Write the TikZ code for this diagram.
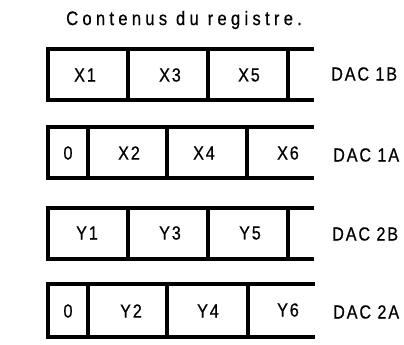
\documentclass[tikz,border=0pt]{standalone}
\usepackage{fontspec}
\setmainfont{Liberation Sans}[FakeStretch=0.85,LetterSpace=10,FakeBold=0.6]
\begin{document}
\begin{tikzpicture}[x=1pt,y=-1pt,
  frame/.style={line width=3.6pt,line cap=rect},
  cell/.style={font=\fontsize{19}{21}\selectfont,inner sep=0pt},
  dac/.style={font=\fontsize{19}{21}\selectfont,inner sep=0pt,anchor=west},
  titletext/.style={font=\fontsize{19.5}{21}\selectfont\addfontfeatures{LetterSpace=22},inner sep=0pt,anchor=west}]
\useasboundingbox (0,0) rectangle (404,345);
\node[titletext] (title) at (66,20) {Contenus du registre.};
% row 1 : DAC 1B
\draw[frame] (312,49) -- (48,49) -- (48,100) -- (312,100);
\foreach \x in {128,208,288} \draw[frame,line cap=butt] (\x,49) -- (\x,100);
\node[cell] (x1) at (85,75) {X1};
\node[cell] (x3) at (170,75) {X3};
\node[cell] (x5) at (249,75) {X5};
\node[dac] (d1b) at (331,74) {DAC 1B};
% row 2 : DAC 1A
\draw[frame] (312,127) -- (48,127) -- (48,178) -- (312,178);
\foreach \x in {88,167,247} \draw[frame,line cap=butt] (\x,127) -- (\x,178);
\node[cell] (z1) at (68,153) {0};
\node[cell] (x2) at (129,153) {X2};
\node[cell] (x4) at (204,153) {X4};
\node[cell] (x6) at (288,153) {X6};
\node[dac] (d1a) at (333,155) {DAC 1A};
% row 3 : DAC 2B
\draw[frame] (312,208) -- (48,208) -- (48,259) -- (312,259);
\foreach \x in {128,208,288} \draw[frame,line cap=butt] (\x,208) -- (\x,259);
\node[cell] (y1) at (87,233) {Y1};
\node[cell] (y3) at (170,233) {Y3};
\node[cell] (y5) at (250,233) {Y5};
\node[dac] (d2b) at (332,234) {DAC 2B};
% row 4 : DAC 2A
\draw[frame] (313,284) -- (48,284) -- (48,337) -- (313,337);
\foreach \x in {88,167,248} \draw[frame,line cap=butt] (\x,284) -- (\x,337);
\node[cell] (z2) at (68,311) {0};
\node[cell] (y2) at (131,311) {Y2};
\node[cell] (y4) at (208,311) {Y4};
\node[cell] (y6) at (288,310) {Y6};
\node[dac] (d2a) at (333,312) {DAC 2A};
\end{tikzpicture}
\end{document}
